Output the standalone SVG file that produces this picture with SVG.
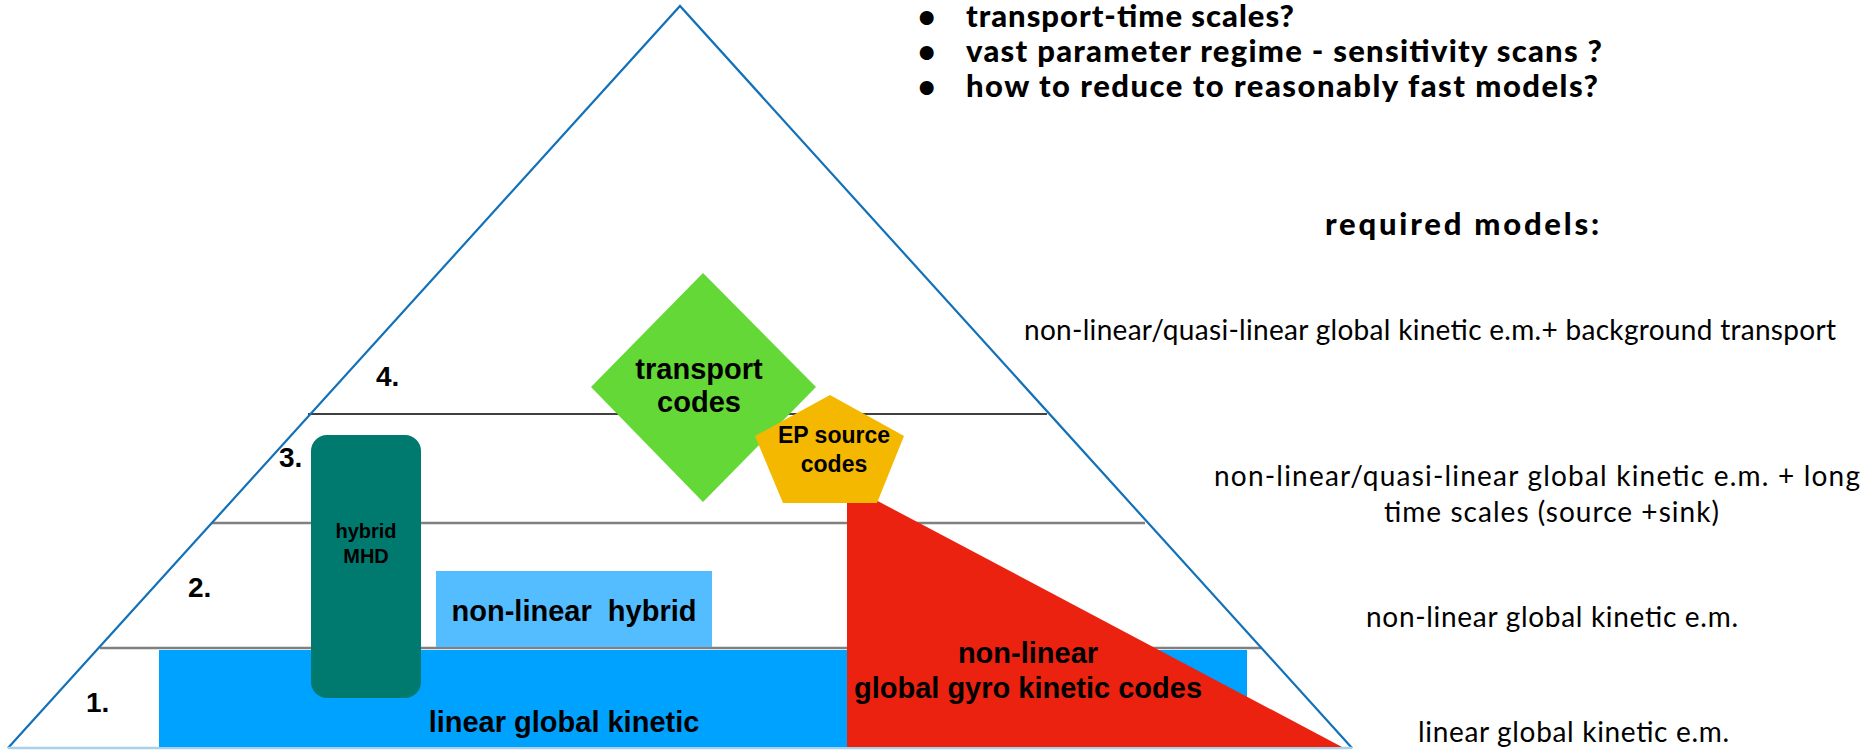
<svg xmlns="http://www.w3.org/2000/svg" width="1876" height="750" viewBox="0 0 1876 750">
<style>
.hb{font-family:"Liberation Sans",Arial,sans-serif;font-weight:bold;fill:#000}
.gs{font-family:Lato,"Open Sans",sans-serif;fill:#000}
.gsb{font-family:Lato,"Open Sans",sans-serif;font-weight:900;fill:#000}
.sep{stroke:#808080;stroke-width:2.5;fill:none}
</style>
<rect width="1876" height="750" fill="#fff"/>
<g id="layers">
<line x1="308" y1="414" x2="1047" y2="414" stroke="#000" stroke-width="1.5"/>
<line x1="212" y1="523" x2="1145" y2="523" class="sep"/>
<line x1="100" y1="648" x2="1261" y2="648" class="sep"/>
</g>
<g id="pyramid">
<polyline points="8,748 680,6 1352,748" fill="none" stroke="#1271b8" stroke-width="2.2"/>
<line x1="8" y1="748" x2="1352" y2="748" stroke="#a9d2ea" stroke-width="2.5"/>
</g>
<g id="level-labels">
<text class="hb" x="376" y="386" font-size="28">4.</text>
<text class="hb" x="279" y="467" font-size="28">3.</text>
<text class="hb" x="188" y="597" font-size="28">2.</text>
<text class="hb" x="86" y="712" font-size="28">1.</text>
</g>
<g id="linear-global-kinetic">
<rect x="159" y="650" width="1088" height="97" fill="#00a2ff"/>
<text class="hb" x="564" y="732" font-size="29" text-anchor="middle">linear global kinetic</text>
</g>
<g id="hybrid-mhd">
<rect x="311" y="435" width="110" height="263" rx="16" fill="#00796f"/>
<text class="hb" x="366" y="538" font-size="20" text-anchor="middle">hybrid</text>
<text class="hb" x="366" y="563" font-size="20" text-anchor="middle">MHD</text>
</g>
<g id="nonlinear-hybrid">
<rect x="436" y="571" width="276" height="76" fill="#53bdff"/>
<text class="hb" x="574" y="621" font-size="29" text-anchor="middle" xml:space="preserve">non-linear  hybrid</text>
</g>
<g id="gyrokinetic">
<polygon points="847,498 872,498 1342,747 847,747" fill="#ec2210"/>
<text class="hb" x="1028" y="663" font-size="29" text-anchor="middle">non-linear</text>
<text class="hb" x="1028" y="698" font-size="29" text-anchor="middle">global gyro kinetic codes</text>
</g>
<g id="transport-codes">
<polygon points="703,273 816,387 703,502 591,387" fill="#63d836"/>
<text class="hb" x="699" y="379" font-size="29" text-anchor="middle">transport</text>
<text class="hb" x="699" y="412" font-size="29" text-anchor="middle">codes</text>
</g>
<g id="ep-source-codes">
<polygon points="830,395 904,436 877,503 783,503 755,436" fill="#f5b800"/>
<text class="hb" x="834" y="443" font-size="23" text-anchor="middle">EP source</text>
<text class="hb" x="834" y="472" font-size="23" text-anchor="middle">codes</text>
</g>
<g id="questions">
<text class="gsb" x="918" y="27" font-size="30">•</text>
<text class="gsb" x="918" y="62" font-size="30">•</text>
<text class="gsb" x="918" y="97" font-size="30">•</text>
<text class="gsb" x="966" y="27" font-size="31" textLength="328">transport-time scales?</text>
<text class="gsb" x="966" y="62" font-size="31" textLength="636">vast parameter regime - sensitivity scans ?</text>
<text class="gsb" x="966" y="97" font-size="31" textLength="632">how to reduce to reasonably fast models?</text>
</g>
<g id="required-models">
<text class="gsb" x="1325" y="235" font-size="31" textLength="274">required models:</text>
<text class="gs" x="1024" y="340" font-size="28" textLength="812">non-linear/quasi-linear global kinetic e.m.+ background transport</text>
<text class="gs" x="1214" y="486" font-size="28" textLength="646">non-linear/quasi-linear global kinetic e.m. + long</text>
<text class="gs" x="1384" y="522" font-size="28" textLength="335">time scales (source +sink)</text>
<text class="gs" x="1366" y="627" font-size="28" textLength="372">non-linear global kinetic e.m.</text>
<text class="gs" x="1418" y="742" font-size="28" textLength="311">linear global kinetic e.m.</text>
</g>
</svg>
